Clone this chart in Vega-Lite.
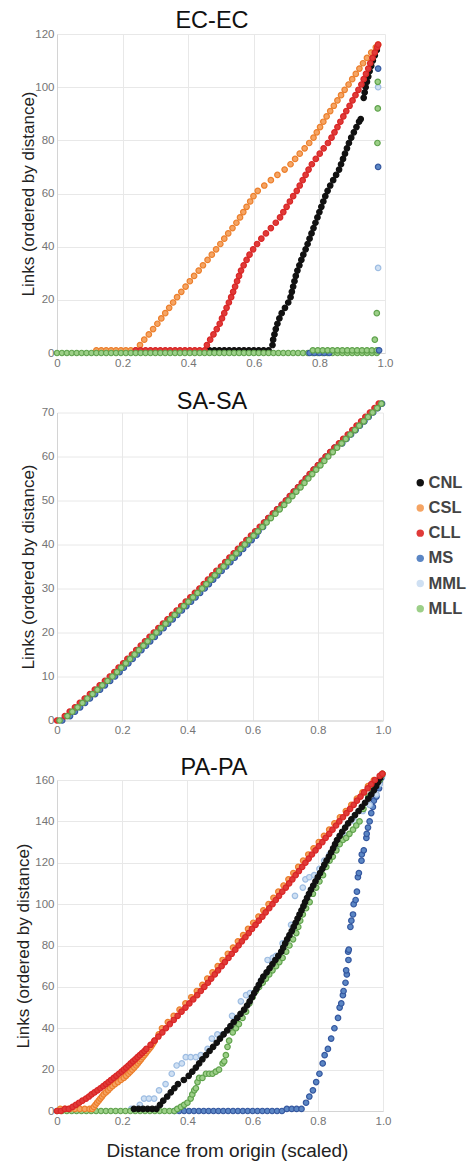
{
"$schema": "https://vega.github.io/schema/vega-lite/v6.json",
"padding": {"left": 14, "top": 8, "right": 3, "bottom": 5},
"bounds": "flush",
"spacing": 59.5,
"resolve": {"scale": {"fill": "shared"}, "legend": {"fill": "independent"}},
"config": {
 "view": {"stroke": null},
 "font": "Liberation Sans",
 "axis": {"labelColor": "#757575", "labelFontSize": 11.5, "ticks": false, "gridColor": "#e8e8e8", "domainColor": "#d4d4d4", "titleColor": "#222222", "titleFontSize": 17, "titleFontWeight": "normal", "labelPadding": 3, "labelFlush": false, "labelOverlap": false},
 "axisX": {"labelPadding": 4, "tickCount": 5, "labelExpr": "datum.value == 0 ? '0' : format(datum.value, '.1f')"},
 "title": {"fontSize": 23.5, "fontWeight": "normal", "color": "#111111", "frame": "group", "anchor": "middle"},
 "circle": {"size": 30, "strokeWidth": 1.2, "opacity": 1}
},
"datasets": {
"ec": [
{"s":"MML","x":0.979,"y":100},{"s":"MML","x":0.979,"y":32},
{"s":"MS","x":0.979,"y":107},{"s":"MS","x":0.979,"y":70},
{"s":"CNL","x":0.465,"y":1},{"s":"CNL","x":0.48,"y":1},{"s":"CNL","x":0.495,"y":1},{"s":"CNL","x":0.51,"y":1},{"s":"CNL","x":0.525,"y":1},{"s":"CNL","x":0.54,"y":1},{"s":"CNL","x":0.555,"y":1},{"s":"CNL","x":0.57,"y":1},{"s":"CNL","x":0.585,"y":1},{"s":"CNL","x":0.6,"y":1},{"s":"CNL","x":0.615,"y":1},{"s":"CNL","x":0.63,"y":1},{"s":"CNL","x":0.645,"y":1},
{"s":"CNL","x":0.657,"y":3},{"s":"CNL","x":0.659,"y":5},{"s":"CNL","x":0.663,"y":7},{"s":"CNL","x":0.667,"y":9},{"s":"CNL","x":0.672,"y":11},{"s":"CNL","x":0.678,"y":13},{"s":"CNL","x":0.685,"y":15},{"s":"CNL","x":0.695,"y":17},{"s":"CNL","x":0.705,"y":19},{"s":"CNL","x":0.712,"y":21},{"s":"CNL","x":0.716,"y":23},{"s":"CNL","x":0.72,"y":25},{"s":"CNL","x":0.724,"y":27},{"s":"CNL","x":0.728,"y":29},{"s":"CNL","x":0.733,"y":31},{"s":"CNL","x":0.739,"y":33},{"s":"CNL","x":0.745,"y":35},{"s":"CNL","x":0.751,"y":37},{"s":"CNL","x":0.758,"y":39},{"s":"CNL","x":0.764,"y":41},{"s":"CNL","x":0.77,"y":43},{"s":"CNL","x":0.776,"y":45},{"s":"CNL","x":0.782,"y":47},{"s":"CNL","x":0.788,"y":49},{"s":"CNL","x":0.794,"y":51},{"s":"CNL","x":0.8,"y":53},{"s":"CNL","x":0.806,"y":55},{"s":"CNL","x":0.812,"y":57},{"s":"CNL","x":0.818,"y":59},{"s":"CNL","x":0.825,"y":61},{"s":"CNL","x":0.833,"y":63},{"s":"CNL","x":0.842,"y":65},{"s":"CNL","x":0.851,"y":67},{"s":"CNL","x":0.86,"y":69},{"s":"CNL","x":0.866,"y":71},{"s":"CNL","x":0.872,"y":73},{"s":"CNL","x":0.878,"y":75},{"s":"CNL","x":0.884,"y":77},{"s":"CNL","x":0.89,"y":79},{"s":"CNL","x":0.897,"y":81},{"s":"CNL","x":0.905,"y":83},{"s":"CNL","x":0.913,"y":85},{"s":"CNL","x":0.921,"y":87},{"s":"CNL","x":0.926,"y":88},{"s":"CNL","x":0.935,"y":96},{"s":"CNL","x":0.938,"y":98},{"s":"CNL","x":0.941,"y":100},{"s":"CNL","x":0.945,"y":102},{"s":"CNL","x":0.949,"y":104},{"s":"CNL","x":0.953,"y":106},{"s":"CNL","x":0.958,"y":108},{"s":"CNL","x":0.963,"y":110},{"s":"CNL","x":0.969,"y":112},{"s":"CNL","x":0.975,"y":114},
{"s":"CSL","x":0.12,"y":1},{"s":"CSL","x":0.135,"y":1},{"s":"CSL","x":0.15,"y":1},{"s":"CSL","x":0.165,"y":1},{"s":"CSL","x":0.18,"y":1},{"s":"CSL","x":0.195,"y":1},{"s":"CSL","x":0.21,"y":1},{"s":"CSL","x":0.225,"y":1},
{"s":"CSL","x":0.24,"y":1},{"s":"CSL","x":0.253,"y":3},{"s":"CSL","x":0.266,"y":5},{"s":"CSL","x":0.28,"y":7},{"s":"CSL","x":0.293,"y":9},{"s":"CSL","x":0.306,"y":11},{"s":"CSL","x":0.318,"y":13},{"s":"CSL","x":0.33,"y":15},{"s":"CSL","x":0.342,"y":17},{"s":"CSL","x":0.354,"y":19},{"s":"CSL","x":0.366,"y":21},{"s":"CSL","x":0.379,"y":23},{"s":"CSL","x":0.392,"y":25},{"s":"CSL","x":0.405,"y":27},{"s":"CSL","x":0.418,"y":29},{"s":"CSL","x":0.432,"y":31},{"s":"CSL","x":0.445,"y":33},{"s":"CSL","x":0.459,"y":35},{"s":"CSL","x":0.472,"y":37},{"s":"CSL","x":0.485,"y":39},{"s":"CSL","x":0.498,"y":41},{"s":"CSL","x":0.51,"y":43},{"s":"CSL","x":0.522,"y":45},{"s":"CSL","x":0.535,"y":47},{"s":"CSL","x":0.547,"y":49},{"s":"CSL","x":0.558,"y":51},{"s":"CSL","x":0.568,"y":53},{"s":"CSL","x":0.578,"y":55},{"s":"CSL","x":0.589,"y":57},{"s":"CSL","x":0.599,"y":59},{"s":"CSL","x":0.612,"y":61},{"s":"CSL","x":0.632,"y":63},{"s":"CSL","x":0.652,"y":65},{"s":"CSL","x":0.672,"y":67},{"s":"CSL","x":0.694,"y":69},{"s":"CSL","x":0.712,"y":71},{"s":"CSL","x":0.726,"y":73},{"s":"CSL","x":0.74,"y":75},{"s":"CSL","x":0.755,"y":77},{"s":"CSL","x":0.769,"y":79},{"s":"CSL","x":0.782,"y":81},{"s":"CSL","x":0.792,"y":83},{"s":"CSL","x":0.802,"y":85},{"s":"CSL","x":0.812,"y":87},{"s":"CSL","x":0.822,"y":89},{"s":"CSL","x":0.833,"y":91},{"s":"CSL","x":0.844,"y":93},{"s":"CSL","x":0.855,"y":95},{"s":"CSL","x":0.866,"y":97},{"s":"CSL","x":0.877,"y":99},{"s":"CSL","x":0.889,"y":101},{"s":"CSL","x":0.9,"y":103},{"s":"CSL","x":0.911,"y":105},{"s":"CSL","x":0.922,"y":107},{"s":"CSL","x":0.933,"y":109},{"s":"CSL","x":0.945,"y":111},{"s":"CSL","x":0.958,"y":113},{"s":"CSL","x":0.972,"y":115},{"s":"CSL","x":0.979,"y":116},
{"s":"CLL","x":0.24,"y":1},{"s":"CLL","x":0.255,"y":1},{"s":"CLL","x":0.27,"y":1},{"s":"CLL","x":0.285,"y":1},{"s":"CLL","x":0.3,"y":1},{"s":"CLL","x":0.315,"y":1},{"s":"CLL","x":0.33,"y":1},{"s":"CLL","x":0.345,"y":1},{"s":"CLL","x":0.36,"y":1},{"s":"CLL","x":0.375,"y":1},{"s":"CLL","x":0.39,"y":1},{"s":"CLL","x":0.405,"y":1},{"s":"CLL","x":0.42,"y":1},{"s":"CLL","x":0.435,"y":1},{"s":"CLL","x":0.45,"y":1},
{"s":"CLL","x":0.457,"y":3},{"s":"CLL","x":0.467,"y":5},{"s":"CLL","x":0.477,"y":7},{"s":"CLL","x":0.487,"y":9},{"s":"CLL","x":0.496,"y":11},{"s":"CLL","x":0.503,"y":13},{"s":"CLL","x":0.51,"y":15},{"s":"CLL","x":0.517,"y":17},{"s":"CLL","x":0.524,"y":19},{"s":"CLL","x":0.531,"y":21},{"s":"CLL","x":0.537,"y":23},{"s":"CLL","x":0.543,"y":25},{"s":"CLL","x":0.549,"y":27},{"s":"CLL","x":0.555,"y":29},{"s":"CLL","x":0.561,"y":31},{"s":"CLL","x":0.569,"y":33},{"s":"CLL","x":0.578,"y":35},{"s":"CLL","x":0.587,"y":37},{"s":"CLL","x":0.598,"y":39},{"s":"CLL","x":0.61,"y":41},{"s":"CLL","x":0.623,"y":43},{"s":"CLL","x":0.637,"y":45},{"s":"CLL","x":0.652,"y":47},{"s":"CLL","x":0.667,"y":49},{"s":"CLL","x":0.68,"y":51},{"s":"CLL","x":0.69,"y":53},{"s":"CLL","x":0.7,"y":55},{"s":"CLL","x":0.71,"y":57},{"s":"CLL","x":0.72,"y":59},{"s":"CLL","x":0.731,"y":61},{"s":"CLL","x":0.74,"y":63},{"s":"CLL","x":0.749,"y":65},{"s":"CLL","x":0.758,"y":67},{"s":"CLL","x":0.767,"y":69},{"s":"CLL","x":0.777,"y":71},{"s":"CLL","x":0.789,"y":73},{"s":"CLL","x":0.801,"y":75},{"s":"CLL","x":0.813,"y":77},{"s":"CLL","x":0.826,"y":79},{"s":"CLL","x":0.837,"y":81},{"s":"CLL","x":0.846,"y":83},{"s":"CLL","x":0.855,"y":85},{"s":"CLL","x":0.864,"y":87},{"s":"CLL","x":0.873,"y":89},{"s":"CLL","x":0.882,"y":91},{"s":"CLL","x":0.892,"y":93},{"s":"CLL","x":0.901,"y":95},{"s":"CLL","x":0.91,"y":97},{"s":"CLL","x":0.919,"y":99},{"s":"CLL","x":0.928,"y":101},{"s":"CLL","x":0.935,"y":103},{"s":"CLL","x":0.942,"y":105},{"s":"CLL","x":0.949,"y":107},{"s":"CLL","x":0.955,"y":109},{"s":"CLL","x":0.962,"y":111},{"s":"CLL","x":0.969,"y":113},{"s":"CLL","x":0.976,"y":115},{"s":"CLL","x":0.979,"y":116},
{"s":"MLL","x":0,"y":0},{"s":"MLL","x":0.015,"y":0},{"s":"MLL","x":0.03,"y":0},{"s":"MLL","x":0.045,"y":0},{"s":"MLL","x":0.06,"y":0},{"s":"MLL","x":0.075,"y":0},{"s":"MLL","x":0.09,"y":0},{"s":"MLL","x":0.105,"y":0},{"s":"MLL","x":0.12,"y":0},{"s":"MLL","x":0.135,"y":0},{"s":"MLL","x":0.15,"y":0},{"s":"MLL","x":0.165,"y":0},{"s":"MLL","x":0.18,"y":0},{"s":"MLL","x":0.195,"y":0},{"s":"MLL","x":0.21,"y":0},{"s":"MLL","x":0.225,"y":0},{"s":"MLL","x":0.24,"y":0},{"s":"MLL","x":0.255,"y":0},{"s":"MLL","x":0.27,"y":0},{"s":"MLL","x":0.285,"y":0},{"s":"MLL","x":0.3,"y":0},{"s":"MLL","x":0.315,"y":0},{"s":"MLL","x":0.33,"y":0},{"s":"MLL","x":0.345,"y":0},{"s":"MLL","x":0.36,"y":0},{"s":"MLL","x":0.375,"y":0},{"s":"MLL","x":0.39,"y":0},{"s":"MLL","x":0.405,"y":0},{"s":"MLL","x":0.42,"y":0},{"s":"MLL","x":0.435,"y":0},{"s":"MLL","x":0.45,"y":0},{"s":"MLL","x":0.465,"y":0},{"s":"MLL","x":0.48,"y":0},{"s":"MLL","x":0.495,"y":0},{"s":"MLL","x":0.51,"y":0},{"s":"MLL","x":0.525,"y":0},{"s":"MLL","x":0.54,"y":0},{"s":"MLL","x":0.555,"y":0},{"s":"MLL","x":0.57,"y":0},{"s":"MLL","x":0.585,"y":0},{"s":"MLL","x":0.6,"y":0},{"s":"MLL","x":0.615,"y":0},{"s":"MLL","x":0.63,"y":0},{"s":"MLL","x":0.645,"y":0},{"s":"MLL","x":0.66,"y":0},{"s":"MLL","x":0.675,"y":0},{"s":"MLL","x":0.69,"y":0},{"s":"MLL","x":0.705,"y":0},{"s":"MLL","x":0.72,"y":0},{"s":"MLL","x":0.735,"y":0},{"s":"MLL","x":0.75,"y":0},{"s":"MLL","x":0.765,"y":0},{"s":"MLL","x":0.78,"y":0},{"s":"MLL","x":0.795,"y":0},{"s":"MLL","x":0.81,"y":0},{"s":"MLL","x":0.825,"y":0},{"s":"MLL","x":0.84,"y":0},{"s":"MLL","x":0.855,"y":0},{"s":"MLL","x":0.87,"y":0},{"s":"MLL","x":0.885,"y":0},{"s":"MLL","x":0.9,"y":0},{"s":"MLL","x":0.915,"y":0},{"s":"MLL","x":0.93,"y":0},{"s":"MLL","x":0.945,"y":0},{"s":"MLL","x":0.96,"y":0},{"s":"MLL","x":0.975,"y":0},
{"s":"MS","x":0.77,"y":0},{"s":"MS","x":0.785,"y":0},{"s":"MS","x":0.8,"y":0},{"s":"MS","x":0.815,"y":0},{"s":"MS","x":0.83,"y":0},
{"s":"MLL","x":0.78,"y":1},{"s":"MLL","x":0.795,"y":1},{"s":"MLL","x":0.81,"y":1},{"s":"MLL","x":0.825,"y":1},{"s":"MLL","x":0.84,"y":1},{"s":"MLL","x":0.855,"y":1},{"s":"MLL","x":0.87,"y":1},{"s":"MLL","x":0.885,"y":1},{"s":"MLL","x":0.9,"y":1},{"s":"MLL","x":0.915,"y":1},{"s":"MLL","x":0.93,"y":1},{"s":"MLL","x":0.945,"y":1},{"s":"MLL","x":0.96,"y":1},{"s":"MLL","x":0.975,"y":1},
{"s":"MLL","x":0.978,"y":102},{"s":"MLL","x":0.978,"y":92},{"s":"MLL","x":0.977,"y":79},{"s":"MLL","x":0.975,"y":15},{"s":"MLL","x":0.969,"y":5},
{"s":"MS","x":0.982,"y":1}
],
"sa": [
{"s":"MS","x":0.016,"y":0},{"s":"MS","x":0.04,"y":1},{"s":"MS","x":0.055,"y":2},{"s":"MS","x":0.071,"y":3},{"s":"MS","x":0.086,"y":4},{"s":"MS","x":0.101,"y":5},{"s":"MS","x":0.117,"y":6},{"s":"MS","x":0.132,"y":7},{"s":"MS","x":0.147,"y":8},{"s":"MS","x":0.163,"y":9},{"s":"MS","x":0.178,"y":10},{"s":"MS","x":0.192,"y":11},{"s":"MS","x":0.205,"y":12},{"s":"MS","x":0.219,"y":13},{"s":"MS","x":0.232,"y":14},{"s":"MS","x":0.246,"y":15},{"s":"MS","x":0.259,"y":16},{"s":"MS","x":0.273,"y":17},{"s":"MS","x":0.286,"y":18},{"s":"MS","x":0.3,"y":19},{"s":"MS","x":0.313,"y":20},{"s":"MS","x":0.327,"y":21},{"s":"MS","x":0.341,"y":22},{"s":"MS","x":0.355,"y":23},{"s":"MS","x":0.369,"y":24},{"s":"MS","x":0.383,"y":25},{"s":"MS","x":0.397,"y":26},{"s":"MS","x":0.411,"y":27},{"s":"MS","x":0.425,"y":28},{"s":"MS","x":0.439,"y":29},{"s":"MS","x":0.453,"y":30},{"s":"MS","x":0.466,"y":31},{"s":"MS","x":0.479,"y":32},{"s":"MS","x":0.492,"y":33},{"s":"MS","x":0.505,"y":34},{"s":"MS","x":0.519,"y":35},{"s":"MS","x":0.532,"y":36},{"s":"MS","x":0.545,"y":37},{"s":"MS","x":0.558,"y":38},{"s":"MS","x":0.571,"y":39},{"s":"MS","x":0.584,"y":40},{"s":"MS","x":0.597,"y":41},{"s":"MS","x":0.611,"y":42},{"s":"MS","x":0.618,"y":43},{"s":"MS","x":0.632,"y":44},{"s":"MS","x":0.636,"y":45},{"s":"MS","x":0.649,"y":46},{"s":"MS","x":0.663,"y":47},{"s":"MS","x":0.676,"y":48},{"s":"MS","x":0.69,"y":49},{"s":"MS","x":0.703,"y":50},{"s":"MS","x":0.715,"y":51},{"s":"MS","x":0.727,"y":52},{"s":"MS","x":0.74,"y":53},{"s":"MS","x":0.752,"y":54},{"s":"MS","x":0.764,"y":55},{"s":"MS","x":0.776,"y":56},{"s":"MS","x":0.788,"y":57},{"s":"MS","x":0.801,"y":58},{"s":"MS","x":0.813,"y":59},{"s":"MS","x":0.825,"y":60},{"s":"MS","x":0.839,"y":61},{"s":"MS","x":0.852,"y":62},{"s":"MS","x":0.875,"y":63},{"s":"MS","x":0.888,"y":64},{"s":"MS","x":0.902,"y":65},{"s":"MS","x":0.916,"y":66},{"s":"MS","x":0.929,"y":67},{"s":"MS","x":0.943,"y":68},{"s":"MS","x":0.956,"y":69},{"s":"MS","x":0.97,"y":70},{"s":"MS","x":0.984,"y":71},{"s":"MS","x":0.997,"y":72},
{"s":"CLL","x":0.0,"y":0},{"s":"CLL","x":0.024,"y":1},{"s":"CLL","x":0.039,"y":2},{"s":"CLL","x":0.055,"y":3},{"s":"CLL","x":0.07,"y":4},{"s":"CLL","x":0.085,"y":5},{"s":"CLL","x":0.101,"y":6},{"s":"CLL","x":0.116,"y":7},{"s":"CLL","x":0.131,"y":8},{"s":"CLL","x":0.147,"y":9},{"s":"CLL","x":0.162,"y":10},{"s":"CLL","x":0.176,"y":11},{"s":"CLL","x":0.189,"y":12},{"s":"CLL","x":0.203,"y":13},{"s":"CLL","x":0.216,"y":14},{"s":"CLL","x":0.23,"y":15},{"s":"CLL","x":0.243,"y":16},{"s":"CLL","x":0.257,"y":17},{"s":"CLL","x":0.27,"y":18},{"s":"CLL","x":0.284,"y":19},{"s":"CLL","x":0.297,"y":20},{"s":"CLL","x":0.311,"y":21},{"s":"CLL","x":0.325,"y":22},{"s":"CLL","x":0.339,"y":23},{"s":"CLL","x":0.353,"y":24},{"s":"CLL","x":0.367,"y":25},{"s":"CLL","x":0.381,"y":26},{"s":"CLL","x":0.395,"y":27},{"s":"CLL","x":0.409,"y":28},{"s":"CLL","x":0.423,"y":29},{"s":"CLL","x":0.437,"y":30},{"s":"CLL","x":0.45,"y":31},{"s":"CLL","x":0.463,"y":32},{"s":"CLL","x":0.476,"y":33},{"s":"CLL","x":0.489,"y":34},{"s":"CLL","x":0.503,"y":35},{"s":"CLL","x":0.516,"y":36},{"s":"CLL","x":0.529,"y":37},{"s":"CLL","x":0.542,"y":38},{"s":"CLL","x":0.555,"y":39},{"s":"CLL","x":0.568,"y":40},{"s":"CLL","x":0.581,"y":41},{"s":"CLL","x":0.595,"y":42},{"s":"CLL","x":0.608,"y":43},{"s":"CLL","x":0.622,"y":44},{"s":"CLL","x":0.635,"y":45},{"s":"CLL","x":0.648,"y":46},{"s":"CLL","x":0.662,"y":47},{"s":"CLL","x":0.675,"y":48},{"s":"CLL","x":0.689,"y":49},{"s":"CLL","x":0.702,"y":50},{"s":"CLL","x":0.714,"y":51},{"s":"CLL","x":0.726,"y":52},{"s":"CLL","x":0.739,"y":53},{"s":"CLL","x":0.751,"y":54},{"s":"CLL","x":0.763,"y":55},{"s":"CLL","x":0.775,"y":56},{"s":"CLL","x":0.787,"y":57},{"s":"CLL","x":0.8,"y":58},{"s":"CLL","x":0.812,"y":59},{"s":"CLL","x":0.824,"y":60},{"s":"CLL","x":0.838,"y":61},{"s":"CLL","x":0.851,"y":62},{"s":"CLL","x":0.865,"y":63},{"s":"CLL","x":0.878,"y":64},{"s":"CLL","x":0.892,"y":65},{"s":"CLL","x":0.906,"y":66},{"s":"CLL","x":0.919,"y":67},{"s":"CLL","x":0.933,"y":68},{"s":"CLL","x":0.946,"y":69},{"s":"CLL","x":0.96,"y":70},{"s":"CLL","x":0.974,"y":71},{"s":"CLL","x":0.987,"y":72},
{"s":"MLL","x":0.008,"y":0},{"s":"MLL","x":0.032,"y":1},{"s":"MLL","x":0.047,"y":2},{"s":"MLL","x":0.063,"y":3},{"s":"MLL","x":0.078,"y":4},{"s":"MLL","x":0.093,"y":5},{"s":"MLL","x":0.109,"y":6},{"s":"MLL","x":0.124,"y":7},{"s":"MLL","x":0.139,"y":8},{"s":"MLL","x":0.155,"y":9},{"s":"MLL","x":0.17,"y":10},{"s":"MLL","x":0.184,"y":11},{"s":"MLL","x":0.197,"y":12},{"s":"MLL","x":0.211,"y":13},{"s":"MLL","x":0.224,"y":14},{"s":"MLL","x":0.238,"y":15},{"s":"MLL","x":0.251,"y":16},{"s":"MLL","x":0.265,"y":17},{"s":"MLL","x":0.278,"y":18},{"s":"MLL","x":0.292,"y":19},{"s":"MLL","x":0.305,"y":20},{"s":"MLL","x":0.319,"y":21},{"s":"MLL","x":0.333,"y":22},{"s":"MLL","x":0.347,"y":23},{"s":"MLL","x":0.361,"y":24},{"s":"MLL","x":0.375,"y":25},{"s":"MLL","x":0.389,"y":26},{"s":"MLL","x":0.403,"y":27},{"s":"MLL","x":0.417,"y":28},{"s":"MLL","x":0.431,"y":29},{"s":"MLL","x":0.445,"y":30},{"s":"MLL","x":0.458,"y":31},{"s":"MLL","x":0.471,"y":32},{"s":"MLL","x":0.484,"y":33},{"s":"MLL","x":0.497,"y":34},{"s":"MLL","x":0.511,"y":35},{"s":"MLL","x":0.524,"y":36},{"s":"MLL","x":0.537,"y":37},{"s":"MLL","x":0.55,"y":38},{"s":"MLL","x":0.563,"y":39},{"s":"MLL","x":0.576,"y":40},{"s":"MLL","x":0.589,"y":41},{"s":"MLL","x":0.603,"y":42},{"s":"MLL","x":0.616,"y":43},{"s":"MLL","x":0.63,"y":44},{"s":"MLL","x":0.643,"y":45},{"s":"MLL","x":0.656,"y":46},{"s":"MLL","x":0.67,"y":47},{"s":"MLL","x":0.683,"y":48},{"s":"MLL","x":0.697,"y":49},{"s":"MLL","x":0.71,"y":50},{"s":"MLL","x":0.722,"y":51},{"s":"MLL","x":0.734,"y":52},{"s":"MLL","x":0.747,"y":53},{"s":"MLL","x":0.759,"y":54},{"s":"MLL","x":0.771,"y":55},{"s":"MLL","x":0.783,"y":56},{"s":"MLL","x":0.795,"y":57},{"s":"MLL","x":0.808,"y":58},{"s":"MLL","x":0.82,"y":59},{"s":"MLL","x":0.832,"y":60},{"s":"MLL","x":0.846,"y":61},{"s":"MLL","x":0.859,"y":62},{"s":"MLL","x":0.873,"y":63},{"s":"MLL","x":0.886,"y":64},{"s":"MLL","x":0.9,"y":65},{"s":"MLL","x":0.914,"y":66},{"s":"MLL","x":0.927,"y":67},{"s":"MLL","x":0.941,"y":68},{"s":"MLL","x":0.954,"y":69},{"s":"MLL","x":0.968,"y":70},{"s":"MLL","x":0.982,"y":71},{"s":"MLL","x":0.995,"y":72}
],
"pa": [
{"s":"MS","x":0.36,"y":0},{"s":"MS","x":0.375,"y":0},{"s":"MS","x":0.39,"y":0},{"s":"MS","x":0.405,"y":0},{"s":"MS","x":0.42,"y":0},{"s":"MS","x":0.435,"y":0},{"s":"MS","x":0.45,"y":0},{"s":"MS","x":0.465,"y":0},{"s":"MS","x":0.48,"y":0},{"s":"MS","x":0.495,"y":0},{"s":"MS","x":0.51,"y":0},{"s":"MS","x":0.525,"y":0},{"s":"MS","x":0.54,"y":0},{"s":"MS","x":0.555,"y":0},{"s":"MS","x":0.57,"y":0},{"s":"MS","x":0.585,"y":0},{"s":"MS","x":0.6,"y":0},{"s":"MS","x":0.615,"y":0},{"s":"MS","x":0.63,"y":0},{"s":"MS","x":0.645,"y":0},{"s":"MS","x":0.66,"y":0},{"s":"MS","x":0.675,"y":0},{"s":"MS","x":0.69,"y":0},
{"s":"MS","x":0.705,"y":1},{"s":"MS","x":0.72,"y":1},{"s":"MS","x":0.735,"y":1},{"s":"MS","x":0.75,"y":1},
{"s":"MS","x":0.764,"y":4},{"s":"MS","x":0.774,"y":7},{"s":"MS","x":0.785,"y":10},{"s":"MS","x":0.795,"y":14},{"s":"MS","x":0.805,"y":18},{"s":"MS","x":0.815,"y":23},{"s":"MS","x":0.821,"y":27},{"s":"MS","x":0.831,"y":30},{"s":"MS","x":0.841,"y":35},{"s":"MS","x":0.851,"y":40},{"s":"MS","x":0.862,"y":45},{"s":"MS","x":0.867,"y":50},{"s":"MS","x":0.872,"y":52},{"s":"MS","x":0.877,"y":56},{"s":"MS","x":0.879,"y":58},{"s":"MS","x":0.885,"y":62},{"s":"MS","x":0.889,"y":66},{"s":"MS","x":0.887,"y":68},{"s":"MS","x":0.894,"y":73},{"s":"MS","x":0.893,"y":77},{"s":"MS","x":0.895,"y":78},{"s":"MS","x":0.9,"y":89},{"s":"MS","x":0.903,"y":92},{"s":"MS","x":0.908,"y":95},{"s":"MS","x":0.91,"y":100},{"s":"MS","x":0.916,"y":102},{"s":"MS","x":0.92,"y":106},{"s":"MS","x":0.923,"y":113},{"s":"MS","x":0.926,"y":115},{"s":"MS","x":0.934,"y":121},{"s":"MS","x":0.935,"y":124},{"s":"MS","x":0.941,"y":126},{"s":"MS","x":0.949,"y":132},{"s":"MS","x":0.95,"y":134},{"s":"MS","x":0.954,"y":137},{"s":"MS","x":0.959,"y":140},{"s":"MS","x":0.964,"y":144},{"s":"MS","x":0.969,"y":147},{"s":"MS","x":0.972,"y":150},{"s":"MS","x":0.98,"y":152},{"s":"MS","x":0.988,"y":156},{"s":"MS","x":0.99,"y":159},{"s":"MS","x":0.995,"y":161},
{"s":"MML","x":0.228,"y":1},{"s":"MML","x":0.254,"y":3},{"s":"MML","x":0.267,"y":6},{"s":"MML","x":0.282,"y":6},{"s":"MML","x":0.298,"y":6},{"s":"MML","x":0.313,"y":10},{"s":"MML","x":0.333,"y":13},{"s":"MML","x":0.352,"y":18},{"s":"MML","x":0.367,"y":22},{"s":"MML","x":0.383,"y":23},{"s":"MML","x":0.395,"y":26},{"s":"MML","x":0.41,"y":26},{"s":"MML","x":0.426,"y":26},{"s":"MML","x":0.441,"y":27},{"s":"MML","x":0.462,"y":30},{"s":"MML","x":0.475,"y":35},{"s":"MML","x":0.492,"y":37},{"s":"MML","x":0.508,"y":37},{"s":"MML","x":0.537,"y":46},{"s":"MML","x":0.564,"y":53},{"s":"MML","x":0.58,"y":56},{"s":"MML","x":0.592,"y":57},{"s":"MML","x":0.626,"y":63},{"s":"MML","x":0.646,"y":73},{"s":"MML","x":0.662,"y":74},{"s":"MML","x":0.672,"y":75},{"s":"MML","x":0.692,"y":81},{"s":"MML","x":0.718,"y":90},{"s":"MML","x":0.73,"y":104},{"s":"MML","x":0.754,"y":108},{"s":"MML","x":0.762,"y":112},{"s":"MML","x":0.774,"y":113},{"s":"MML","x":0.789,"y":114},{"s":"MML","x":0.805,"y":117},{"s":"MML","x":0.82,"y":121},{"s":"MML","x":0.836,"y":124},{"s":"MML","x":0.857,"y":127},{"s":"MML","x":0.887,"y":133},{"s":"MML","x":0.913,"y":140},{"s":"MML","x":0.938,"y":145},{"s":"MML","x":0.959,"y":148},{"s":"MML","x":0.98,"y":153},{"s":"MML","x":0.99,"y":158},{"s":"MML","x":0.998,"y":162},
{"s":"MLL","x":0,"y":0},{"s":"MLL","x":0.015,"y":0},{"s":"MLL","x":0.03,"y":0},{"s":"MLL","x":0.045,"y":0},{"s":"MLL","x":0.06,"y":0},{"s":"MLL","x":0.075,"y":0},{"s":"MLL","x":0.09,"y":0},{"s":"MLL","x":0.105,"y":0},{"s":"MLL","x":0.12,"y":0},{"s":"MLL","x":0.135,"y":0},{"s":"MLL","x":0.15,"y":0},{"s":"MLL","x":0.165,"y":0},{"s":"MLL","x":0.18,"y":0},{"s":"MLL","x":0.195,"y":0},{"s":"MLL","x":0.21,"y":0},{"s":"MLL","x":0.225,"y":0},{"s":"MLL","x":0.24,"y":0},{"s":"MLL","x":0.255,"y":0},{"s":"MLL","x":0.27,"y":0},{"s":"MLL","x":0.285,"y":0},{"s":"MLL","x":0.3,"y":0},{"s":"MLL","x":0.315,"y":0},{"s":"MLL","x":0.33,"y":0},{"s":"MLL","x":0.345,"y":0},{"s":"MLL","x":0.36,"y":0},
{"s":"MLL","x":0.369,"y":1},{"s":"MLL","x":0.38,"y":2},{"s":"MLL","x":0.39,"y":3},{"s":"MLL","x":0.4,"y":4},{"s":"MLL","x":0.41,"y":6},{"s":"MLL","x":0.415,"y":8},{"s":"MLL","x":0.421,"y":10},{"s":"MLL","x":0.426,"y":11},{"s":"MLL","x":0.431,"y":14},{"s":"MLL","x":0.436,"y":16},{"s":"MLL","x":0.446,"y":16},{"s":"MLL","x":0.457,"y":18},{"s":"MLL","x":0.467,"y":18},{"s":"MLL","x":0.477,"y":18},{"s":"MLL","x":0.487,"y":19},{"s":"MLL","x":0.497,"y":20},{"s":"MLL","x":0.508,"y":23},{"s":"MLL","x":0.513,"y":24},{"s":"MLL","x":0.518,"y":27},{"s":"MLL","x":0.523,"y":31},{"s":"MLL","x":0.528,"y":34},{"s":"MLL","x":0.539,"y":38},{"s":"MLL","x":0.549,"y":40},{"s":"MLL","x":0.558,"y":42},{"s":"MLL","x":0.569,"y":45},{"s":"MLL","x":0.58,"y":48},{"s":"MLL","x":0.59,"y":52},{"s":"MLL","x":0.6,"y":55},{"s":"MLL","x":0.61,"y":58},{"s":"MLL","x":0.62,"y":60},{"s":"MLL","x":0.631,"y":62},{"s":"MLL","x":0.641,"y":64},{"s":"MLL","x":0.651,"y":66},{"s":"MLL","x":0.661,"y":68},{"s":"MLL","x":0.672,"y":70},{"s":"MLL","x":0.682,"y":72},{"s":"MLL","x":0.692,"y":74},{"s":"MLL","x":0.703,"y":77},{"s":"MLL","x":0.713,"y":80},{"s":"MLL","x":0.724,"y":83},{"s":"MLL","x":0.734,"y":86},{"s":"MLL","x":0.74,"y":89},{"s":"MLL","x":0.746,"y":92},{"s":"MLL","x":0.754,"y":95},{"s":"MLL","x":0.764,"y":98},{"s":"MLL","x":0.775,"y":101},{"s":"MLL","x":0.785,"y":105},{"s":"MLL","x":0.795,"y":108},{"s":"MLL","x":0.805,"y":111},{"s":"MLL","x":0.816,"y":114},{"s":"MLL","x":0.826,"y":118},{"s":"MLL","x":0.836,"y":121},{"s":"MLL","x":0.846,"y":123},{"s":"MLL","x":0.857,"y":126},{"s":"MLL","x":0.867,"y":129},{"s":"MLL","x":0.877,"y":131},{"s":"MLL","x":0.887,"y":132},{"s":"MLL","x":0.897,"y":134},{"s":"MLL","x":0.908,"y":136},{"s":"MLL","x":0.918,"y":138},{"s":"MLL","x":0.928,"y":140},{"s":"MLL","x":0.94,"y":146},{"s":"MLL","x":0.955,"y":152},{"s":"MLL","x":0.968,"y":155},{"s":"MLL","x":0.98,"y":158},{"s":"MLL","x":0.99,"y":160},{"s":"MLL","x":0.995,"y":162},
{"s":"CNL","x":0.236,"y":1},{"s":"CNL","x":0.25,"y":1},{"s":"CNL","x":0.264,"y":1},{"s":"CNL","x":0.278,"y":1},{"s":"CNL","x":0.292,"y":1},
{"s":"CNL","x":0.305,"y":1},{"s":"CNL","x":0.316,"y":3},{"s":"CNL","x":0.326,"y":5},{"s":"CNL","x":0.338,"y":7},{"s":"CNL","x":0.349,"y":9},{"s":"CNL","x":0.36,"y":11},{"s":"CNL","x":0.371,"y":13},{"s":"CNL","x":0.389,"y":15},{"s":"CNL","x":0.404,"y":17},{"s":"CNL","x":0.415,"y":19},{"s":"CNL","x":0.426,"y":21},{"s":"CNL","x":0.436,"y":23},{"s":"CNL","x":0.446,"y":25},{"s":"CNL","x":0.457,"y":27},{"s":"CNL","x":0.468,"y":29},{"s":"CNL","x":0.479,"y":31},{"s":"CNL","x":0.49,"y":33},{"s":"CNL","x":0.5,"y":35},{"s":"CNL","x":0.511,"y":37},{"s":"CNL","x":0.522,"y":39},{"s":"CNL","x":0.532,"y":41},{"s":"CNL","x":0.542,"y":43},{"s":"CNL","x":0.553,"y":45},{"s":"CNL","x":0.563,"y":47},{"s":"CNL","x":0.574,"y":49},{"s":"CNL","x":0.583,"y":51},{"s":"CNL","x":0.591,"y":53},{"s":"CNL","x":0.598,"y":55},{"s":"CNL","x":0.605,"y":57},{"s":"CNL","x":0.612,"y":59},{"s":"CNL","x":0.619,"y":61},{"s":"CNL","x":0.626,"y":63},{"s":"CNL","x":0.633,"y":65},{"s":"CNL","x":0.643,"y":67},{"s":"CNL","x":0.652,"y":69},{"s":"CNL","x":0.661,"y":71},{"s":"CNL","x":0.67,"y":73},{"s":"CNL","x":0.679,"y":75},{"s":"CNL","x":0.688,"y":77},{"s":"CNL","x":0.694,"y":79},{"s":"CNL","x":0.7,"y":81},{"s":"CNL","x":0.706,"y":83},{"s":"CNL","x":0.713,"y":85},{"s":"CNL","x":0.72,"y":87},{"s":"CNL","x":0.726,"y":89},{"s":"CNL","x":0.732,"y":91},{"s":"CNL","x":0.738,"y":93},{"s":"CNL","x":0.744,"y":95},{"s":"CNL","x":0.75,"y":97},{"s":"CNL","x":0.756,"y":99},{"s":"CNL","x":0.761,"y":101},{"s":"CNL","x":0.767,"y":103},{"s":"CNL","x":0.773,"y":105},{"s":"CNL","x":0.779,"y":107},{"s":"CNL","x":0.786,"y":109},{"s":"CNL","x":0.793,"y":111},{"s":"CNL","x":0.8,"y":113},{"s":"CNL","x":0.807,"y":115},{"s":"CNL","x":0.814,"y":117},{"s":"CNL","x":0.82,"y":119},{"s":"CNL","x":0.827,"y":121},{"s":"CNL","x":0.834,"y":123},{"s":"CNL","x":0.841,"y":125},{"s":"CNL","x":0.847,"y":127},{"s":"CNL","x":0.853,"y":129},{"s":"CNL","x":0.859,"y":131},{"s":"CNL","x":0.867,"y":133},{"s":"CNL","x":0.875,"y":135},{"s":"CNL","x":0.884,"y":137},{"s":"CNL","x":0.893,"y":139},{"s":"CNL","x":0.903,"y":141},{"s":"CNL","x":0.914,"y":143},{"s":"CNL","x":0.925,"y":145},{"s":"CNL","x":0.935,"y":147},{"s":"CNL","x":0.945,"y":149},{"s":"CNL","x":0.955,"y":151},{"s":"CNL","x":0.964,"y":153},{"s":"CNL","x":0.972,"y":155},{"s":"CNL","x":0.979,"y":157},{"s":"CNL","x":0.985,"y":159},{"s":"CNL","x":0.991,"y":161},{"s":"CNL","x":0.998,"y":163},
{"s":"CSL","x":0.01,"y":1},{"s":"CSL","x":0.025,"y":1},{"s":"CSL","x":0.04,"y":1},{"s":"CSL","x":0.055,"y":1},{"s":"CSL","x":0.07,"y":1},{"s":"CSL","x":0.085,"y":1},{"s":"CSL","x":0.1,"y":1},
{"s":"CSL","x":0.108,"y":1},{"s":"CSL","x":0.113,"y":2},{"s":"CSL","x":0.118,"y":3},{"s":"CSL","x":0.123,"y":4},{"s":"CSL","x":0.128,"y":5},{"s":"CSL","x":0.133,"y":6},{"s":"CSL","x":0.138,"y":7},{"s":"CSL","x":0.143,"y":8},{"s":"CSL","x":0.15,"y":9},{"s":"CSL","x":0.157,"y":10},{"s":"CSL","x":0.163,"y":11},{"s":"CSL","x":0.17,"y":12},{"s":"CSL","x":0.178,"y":13},{"s":"CSL","x":0.187,"y":14},{"s":"CSL","x":0.196,"y":15},{"s":"CSL","x":0.205,"y":16},{"s":"CSL","x":0.212,"y":17},{"s":"CSL","x":0.219,"y":18},{"s":"CSL","x":0.225,"y":19},{"s":"CSL","x":0.231,"y":20},{"s":"CSL","x":0.237,"y":21},{"s":"CSL","x":0.243,"y":22},{"s":"CSL","x":0.248,"y":23},{"s":"CSL","x":0.253,"y":24},{"s":"CSL","x":0.258,"y":25},{"s":"CSL","x":0.263,"y":26},{"s":"CSL","x":0.268,"y":27},{"s":"CSL","x":0.273,"y":28},{"s":"CSL","x":0.278,"y":29},{"s":"CSL","x":0.283,"y":30},{"s":"CSL","x":0.288,"y":31},{"s":"CSL","x":0.292,"y":32},{"s":"CSL","x":0.296,"y":33},{"s":"CSL","x":0.3,"y":34},{"s":"CSL","x":0.312,"y":37},{"s":"CSL","x":0.322,"y":40},{"s":"CSL","x":0.34,"y":43},{"s":"CSL","x":0.358,"y":46},{"s":"CSL","x":0.376,"y":49},{"s":"CSL","x":0.394,"y":52},{"s":"CSL","x":0.412,"y":55},{"s":"CSL","x":0.429,"y":58},{"s":"CSL","x":0.446,"y":61},{"s":"CSL","x":0.461,"y":64},{"s":"CSL","x":0.477,"y":67},{"s":"CSL","x":0.493,"y":70},{"s":"CSL","x":0.508,"y":73},{"s":"CSL","x":0.524,"y":76},{"s":"CSL","x":0.54,"y":79},{"s":"CSL","x":0.555,"y":82},{"s":"CSL","x":0.571,"y":85},{"s":"CSL","x":0.586,"y":88},{"s":"CSL","x":0.602,"y":91},{"s":"CSL","x":0.618,"y":94},{"s":"CSL","x":0.633,"y":97},{"s":"CSL","x":0.649,"y":100},{"s":"CSL","x":0.664,"y":103},{"s":"CSL","x":0.679,"y":106},{"s":"CSL","x":0.695,"y":109},{"s":"CSL","x":0.71,"y":112},{"s":"CSL","x":0.725,"y":115},{"s":"CSL","x":0.74,"y":118},{"s":"CSL","x":0.755,"y":121},{"s":"CSL","x":0.771,"y":124},{"s":"CSL","x":0.787,"y":127},{"s":"CSL","x":0.803,"y":130},{"s":"CSL","x":0.819,"y":133},{"s":"CSL","x":0.835,"y":136},{"s":"CSL","x":0.851,"y":139},{"s":"CSL","x":0.868,"y":142},{"s":"CSL","x":0.886,"y":145},{"s":"CSL","x":0.903,"y":148},{"s":"CSL","x":0.92,"y":151},{"s":"CSL","x":0.937,"y":154},{"s":"CSL","x":0.954,"y":157},{"s":"CSL","x":0.972,"y":160},{"s":"CSL","x":0.998,"y":163},
{"s":"CLL","x":0,"y":0},{"s":"CLL","x":0.012,"y":0},{"s":"CLL","x":0.024,"y":1},{"s":"CLL","x":0.036,"y":1},{"s":"CLL","x":0.048,"y":2},{"s":"CLL","x":0.058,"y":3},{"s":"CLL","x":0.068,"y":4},{"s":"CLL","x":0.078,"y":5},{"s":"CLL","x":0.089,"y":6},{"s":"CLL","x":0.098,"y":7},{"s":"CLL","x":0.106,"y":8},{"s":"CLL","x":0.115,"y":9},{"s":"CLL","x":0.124,"y":10},{"s":"CLL","x":0.133,"y":11},{"s":"CLL","x":0.142,"y":12},{"s":"CLL","x":0.15,"y":13},{"s":"CLL","x":0.158,"y":14},{"s":"CLL","x":0.166,"y":15},{"s":"CLL","x":0.174,"y":16},{"s":"CLL","x":0.182,"y":17},{"s":"CLL","x":0.19,"y":18},{"s":"CLL","x":0.198,"y":19},{"s":"CLL","x":0.205,"y":20},{"s":"CLL","x":0.212,"y":21},{"s":"CLL","x":0.219,"y":22},{"s":"CLL","x":0.226,"y":23},{"s":"CLL","x":0.233,"y":24},{"s":"CLL","x":0.24,"y":25},{"s":"CLL","x":0.247,"y":26},{"s":"CLL","x":0.254,"y":27},{"s":"CLL","x":0.261,"y":28},{"s":"CLL","x":0.268,"y":29},{"s":"CLL","x":0.274,"y":30},{"s":"CLL","x":0.287,"y":32},{"s":"CLL","x":0.299,"y":34},{"s":"CLL","x":0.311,"y":36},{"s":"CLL","x":0.323,"y":38},{"s":"CLL","x":0.334,"y":40},{"s":"CLL","x":0.346,"y":42},{"s":"CLL","x":0.358,"y":44},{"s":"CLL","x":0.37,"y":46},{"s":"CLL","x":0.382,"y":48},{"s":"CLL","x":0.394,"y":50},{"s":"CLL","x":0.406,"y":52},{"s":"CLL","x":0.418,"y":54},{"s":"CLL","x":0.43,"y":56},{"s":"CLL","x":0.441,"y":58},{"s":"CLL","x":0.452,"y":60},{"s":"CLL","x":0.463,"y":62},{"s":"CLL","x":0.473,"y":64},{"s":"CLL","x":0.484,"y":66},{"s":"CLL","x":0.494,"y":68},{"s":"CLL","x":0.505,"y":70},{"s":"CLL","x":0.515,"y":72},{"s":"CLL","x":0.526,"y":74},{"s":"CLL","x":0.536,"y":76},{"s":"CLL","x":0.547,"y":78},{"s":"CLL","x":0.557,"y":80},{"s":"CLL","x":0.567,"y":82},{"s":"CLL","x":0.578,"y":84},{"s":"CLL","x":0.588,"y":86},{"s":"CLL","x":0.598,"y":88},{"s":"CLL","x":0.609,"y":90},{"s":"CLL","x":0.619,"y":92},{"s":"CLL","x":0.63,"y":94},{"s":"CLL","x":0.64,"y":96},{"s":"CLL","x":0.651,"y":98},{"s":"CLL","x":0.661,"y":100},{"s":"CLL","x":0.671,"y":102},{"s":"CLL","x":0.681,"y":104},{"s":"CLL","x":0.691,"y":106},{"s":"CLL","x":0.702,"y":108},{"s":"CLL","x":0.712,"y":110},{"s":"CLL","x":0.722,"y":112},{"s":"CLL","x":0.732,"y":114},{"s":"CLL","x":0.742,"y":116},{"s":"CLL","x":0.752,"y":118},{"s":"CLL","x":0.762,"y":120},{"s":"CLL","x":0.772,"y":122},{"s":"CLL","x":0.782,"y":124},{"s":"CLL","x":0.793,"y":126},{"s":"CLL","x":0.803,"y":128},{"s":"CLL","x":0.814,"y":130},{"s":"CLL","x":0.824,"y":132},{"s":"CLL","x":0.835,"y":134},{"s":"CLL","x":0.845,"y":136},{"s":"CLL","x":0.856,"y":138},{"s":"CLL","x":0.866,"y":140},{"s":"CLL","x":0.877,"y":142},{"s":"CLL","x":0.888,"y":144},{"s":"CLL","x":0.899,"y":146},{"s":"CLL","x":0.91,"y":148},{"s":"CLL","x":0.92,"y":150},{"s":"CLL","x":0.931,"y":152},{"s":"CLL","x":0.942,"y":154},{"s":"CLL","x":0.953,"y":156},{"s":"CLL","x":0.964,"y":158},{"s":"CLL","x":0.975,"y":160},{"s":"CLL","x":0.99,"y":162},{"s":"CLL","x":0.998,"y":163}
]
},
"vconcat": [
{
 "title": {"text": "EC-EC", "offset": -4.3, "dx": -9},
 "data": {"name": "ec"},
 "width": 328, "height": 319,
 "mark": {"type": "circle"},
 "encoding": {
  "x": {"field": "x", "type": "quantitative", "scale": {"domain": [0, 1], "nice": false}, "axis": {"title": null}},
  "y": {"field": "y", "type": "quantitative", "scale": {"domain": [0, 120], "nice": false}, "axis": {"title": "Links (ordered by distance)", "titlePadding": -2.7}},
  "fill": {"field": "s", "type": "nominal", "scale": {"domain": ["CNL","CSL","CLL","MS","MML","MLL"], "range": ["#111111","#f5a463","#e03a38","#5b86c4","#cfe0f3","#9ccf88"]}, "legend": null},
  "stroke": {"condition": [{"test": "datum.s === 'CSL'", "value": "#ec7f2c"}, {"test": "datum.s === 'CLL'", "value": "#d92626"}, {"test": "datum.s === 'MS'", "value": "#34579f"}, {"test": "datum.s === 'MML'", "value": "#9ebde2"}, {"test": "datum.s === 'MLL'", "value": "#5fa24c"}], "value": "#111111"}
 }
},
{
 "title": {"text": "SA-SA", "offset": -14.5, "dx": -8},
 "data": {"name": "sa"},
 "width": 326, "height": 308,
 "mark": {"type": "circle"},
 "encoding": {
  "x": {"field": "x", "type": "quantitative", "scale": {"domain": [0, 1], "nice": false}, "axis": {"title": null}},
  "y": {"field": "y", "type": "quantitative", "scale": {"domain": [0, 70], "nice": false}, "axis": {"title": "Links (ordered by distance)", "titlePadding": 3.8}},
  "fill": {"field": "s", "type": "nominal", "scale": {"domain": ["CNL","CSL","CLL","MS","MML","MLL"], "range": ["#111111","#f5a463","#e03a38","#5b86c4","#cfe0f3","#9ccf88"]},
   "legend": {"title": null, "orient": "none", "legendX": 355, "legendY": 62, "labelFontSize": 16.5, "labelFontWeight": "bold", "labelColor": "#444444", "labelFont": "Liberation Sans", "symbolSize": 55, "symbolType": "circle", "rowPadding": 8.2, "labelOffset": 0, "symbolStrokeWidth": 0, "symbolStrokeColor": "transparent", "values": ["CNL","CSL","CLL","MS","MML","MLL"],
    "encode": {"symbols": {"update": {"stroke": {"value": "transparent"}, "strokeWidth": {"value": 0}, "opacity": {"signal": "datum.value === 'CSL' ? 0.62 : datum.value === 'MLL' ? 0.55 : datum.value === 'CLL' ? 0.9 : 1"}}}}}},
  "stroke": {"condition": [{"test": "datum.s === 'CSL'", "value": "#ec7f2c"}, {"test": "datum.s === 'CLL'", "value": "#d92626"}, {"test": "datum.s === 'MS'", "value": "#34579f"}, {"test": "datum.s === 'MML'", "value": "#9ebde2"}, {"test": "datum.s === 'MLL'", "value": "#5fa24c"}], "value": "#111111"}
 }
},
{
 "title": {"text": "PA-PA", "offset": -11.3, "dx": -6},
 "data": {"name": "pa"},
 "width": 326, "height": 331,
 "mark": {"type": "circle"},
 "encoding": {
  "x": {"field": "x", "type": "quantitative", "scale": {"domain": [0, 1], "nice": false}, "axis": {"title": "Distance from origin (scaled)", "titleFontSize": 19, "titlePadding": 15, "titleX": 170}},
  "y": {"field": "y", "type": "quantitative", "scale": {"domain": [0, 160], "nice": false}, "axis": {"title": "Links (ordered by distance)", "titlePadding": 2.3}},
  "fill": {"field": "s", "type": "nominal", "scale": {"domain": ["CNL","CSL","CLL","MS","MML","MLL"], "range": ["#111111","#f5a463","#e03a38","#5b86c4","#cfe0f3","#9ccf88"]}, "legend": null},
  "stroke": {"condition": [{"test": "datum.s === 'CSL'", "value": "#ec7f2c"}, {"test": "datum.s === 'CLL'", "value": "#d92626"}, {"test": "datum.s === 'MS'", "value": "#34579f"}, {"test": "datum.s === 'MML'", "value": "#9ebde2"}, {"test": "datum.s === 'MLL'", "value": "#5fa24c"}], "value": "#111111"}
 }
}
]
}
